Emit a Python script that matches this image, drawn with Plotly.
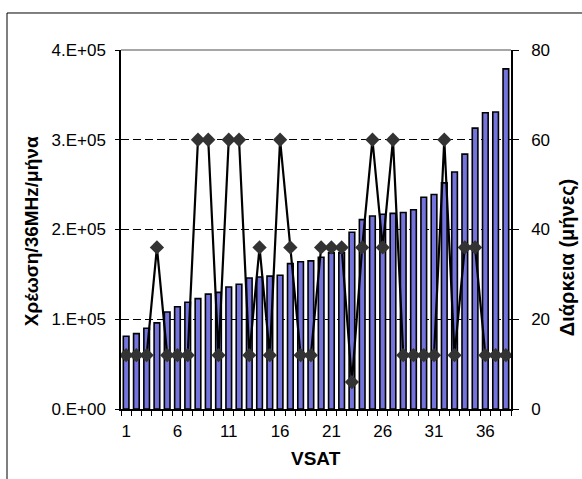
import plotly.graph_objects as go

vsat = list(range(1, 39))
charge = [81000, 84000, 90000, 96000, 108000, 114000, 119000, 123000, 128000, 130000,
          136000, 139000, 146000, 147000, 148000, 149000, 162000, 164000, 165000, 169000,
          174000, 174000, 197000, 211000, 215000, 217000, 218000, 219000, 222000, 236000,
          239000, 252000, 264000, 284000, 313000, 330000, 331000, 379000]
duration = [12, 12, 12, 36, 12, 12, 12, 60, 60, 12, 60, 60, 12, 36, 12, 60, 36, 12, 12, 36,
            36, 36, 6, 36, 60, 36, 60, 12, 12, 12, 12, 60, 12, 36, 36, 12, 12, 12]

x_tickvals = [1, 6, 11, 16, 21, 26, 31, 36]
y_tickvals = [0, 100000, 200000, 300000, 400000]
y_ticktext = ["0.E+00", "1.E+05", "2.E+05", "3.E+05", "4.E+05"]
y2_tickvals = [0, 20, 40, 60, 80]

FONT = "Liberation Sans, Arial, sans-serif"
TICK = 17
TITLE = 19

fig = go.Figure()
fig.add_trace(go.Bar(
    x=vsat, y=charge, yaxis="y",
    marker=dict(color="#7474dc", line=dict(color="black", width=1.6)),
    showlegend=False,
))
fig.add_trace(go.Scatter(
    x=vsat, y=duration, yaxis="y2", mode="lines+markers",
    line=dict(color="black", width=2.2),
    marker=dict(symbol="diamond", size=11, color="#333333", line=dict(width=0)),
    showlegend=False,
))

fig.update_layout(
    width=582, height=479,
    margin=dict(l=121, r=71, t=50, b=70),
    paper_bgcolor="white", plot_bgcolor="white",
    font=dict(family=FONT, size=TICK, color="black"),
    bargap=0.45,
    xaxis=dict(
        range=[0.5, 38.5], tickmode="array", tickvals=x_tickvals,
        ticks="", showgrid=False, zeroline=False,
        showline=True, linecolor="black", linewidth=1.5,
        tickfont=dict(size=TICK), ticklabelstandoff=6,
        minor=dict(tick0=0.5, dtick=1, ticks="outside", ticklen=5,
                   tickcolor="black", tickwidth=1, showgrid=False),
    ),
    yaxis=dict(
        range=[0, 400000], tickmode="array", tickvals=y_tickvals, ticktext=y_ticktext,
        ticks="outside", ticklen=4, tickcolor="black", ticklabelstandoff=6,
        showline=True, linecolor="black", linewidth=1.5,
        showgrid=True, gridcolor="black", gridwidth=1, griddash="8px,4px",
        zeroline=False, tickfont=dict(size=TICK),
    ),
    yaxis2=dict(
        range=[0, 80], overlaying="y", side="right",
        tickmode="array", tickvals=y2_tickvals,
        ticks="outside", ticklen=6, tickcolor="black", ticklabelstandoff=9,
        showline=True, linecolor="black", linewidth=1.5,
        showgrid=False, zeroline=False, tickfont=dict(size=TICK),
    ),
    shapes=[
        dict(type="line", xref="paper", yref="paper", x0=0, x1=1, y0=1, y1=1,
             line=dict(color="#888888", width=1.5), layer="above"),
        dict(type="rect", xref="paper", yref="paper",
             x0=-0.2923, x1=1.21, y0=-0.24, y1=1.1031,
             line=dict(color="black", width=1), layer="above"),
    ],
    annotations=[
        dict(text="<b>Χρέωση/36MHz/μήνα</b>", xref="paper", yref="paper",
             x=-0.2308, y=0.495, textangle=-90, showarrow=False,
             font=dict(size=TITLE, family=FONT), xanchor="center", yanchor="middle"),
        dict(text="<b>Διάρκεια (μήνες)</b>", xref="paper", yref="paper",
             x=1.1436, y=0.42, textangle=-90, showarrow=False,
             font=dict(size=20, family=FONT), xanchor="center", yanchor="middle"),
        dict(text="<b>VSAT</b>", xref="paper", yref="paper",
             x=0.5, y=-0.139, showarrow=False,
             font=dict(size=TITLE, family=FONT), xanchor="center", yanchor="middle"),
    ],
)

fig.write_html("out.html")
